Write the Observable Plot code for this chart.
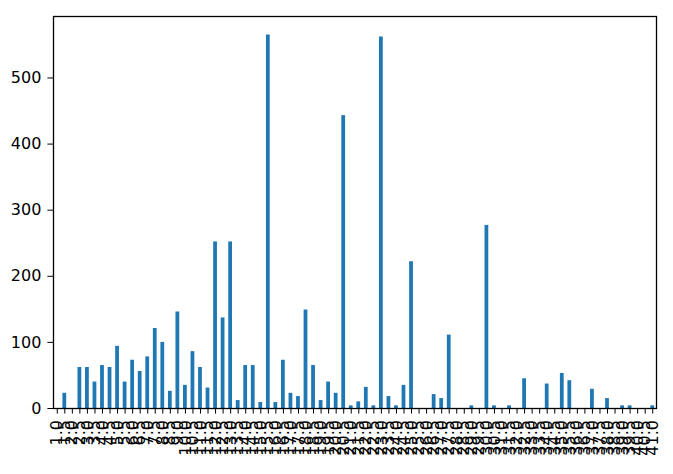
<!DOCTYPE html>
<html>
<head>
<meta charset="utf-8">
<script src="https://cdn.jsdelivr.net/npm/d3@7"></script>
<script src="https://cdn.jsdelivr.net/npm/@observablehq/plot@0.6"></script>
<style>
  html, body { margin: 0; padding: 0; background: #fff; }
</style>
</head>
<body>
<div id="chart"></div>
<script>
// Category tick labels (rotated, illegible in the reference; estimated)
const categories = [
  "1.0","1.5","2.0","2.5","3.0","3.5","4.0","4.5","5.0","5.5",
  "6.0","6.5","7.0","7.5","8.0","8.5","9.0","10.0","10.5","11.0",
  "11.5","12.0","12.5","13.0","13.5","14.0","14.5","15.0","15.5","16.0",
  "16.5","17.0","17.5","18.0","18.5","19.0","19.5","20.0","20.5","21.0",
  "21.5","22.0","22.5","23.0","23.5","24.0","24.5","25.0","25.5","26.0",
  "26.5","27.0","27.5","28.0","28.5","29.0","29.5","30.0","30.5","31.0",
  "31.5","32.0","32.5","33.0","33.5","34.0","34.5","35.0","35.5","36.0",
  "36.5","37.0","37.5","38.0","38.5","39.0","39.5","40.0","40.5","41.0"
];

// Bar heights
const counts = [
  0, 23, 0, 62, 62, 40, 65, 62, 94, 40,
  73, 56, 78, 121, 100, 26, 146, 35, 86, 62,
  31, 252, 137, 252, 12, 65, 65, 9, 565, 9,
  73, 23, 18, 149, 65, 12, 40, 23, 443, 4,
  10, 32, 4, 562, 18, 4, 35, 222, 0, 0,
  21, 15, 111, 0, 0, 4, 0, 277, 4, 0,
  4, 0, 45, 0, 0, 37, 0, 53, 42, 0,
  0, 29, 0, 15, 0, 4, 4, 0, 0, 4
];

const yTicks = [0, 100, 200, 300, 400, 500];

const data = categories.map((c, i) => ({ category: c, count: counts[i] }));

const chart = Plot.plot({
  width: 673,
  height: 474,
  marginTop: 16,
  marginBottom: 66,
  marginLeft: 53,
  marginRight: 17,
  style: { fontFamily: "DejaVu Sans", fontSize: "16px", background: "white", color: "black", overflow: "visible" },
  x: { domain: categories, paddingInner: 0.5, paddingOuter: 0.25, label: null },
  y: { domain: [0, 593], label: null },
  marks: [
    Plot.barY(data, { x: "category", y: "count", fill: "#1f77b4" }),
    Plot.frame({ stroke: "black", strokeWidth: 1.3 }),
    Plot.axisY({ ticks: yTicks, tickSize: 5.6, tickPadding: 6.5, label: null, fontSize: 16 }),
    Plot.axisX({ tickRotate: -90, tickSize: 5.6, tickPadding: 6, label: null, fontSize: 16 })
  ]
});

document.getElementById("chart").appendChild(chart);
</script>
</body>
</html>
